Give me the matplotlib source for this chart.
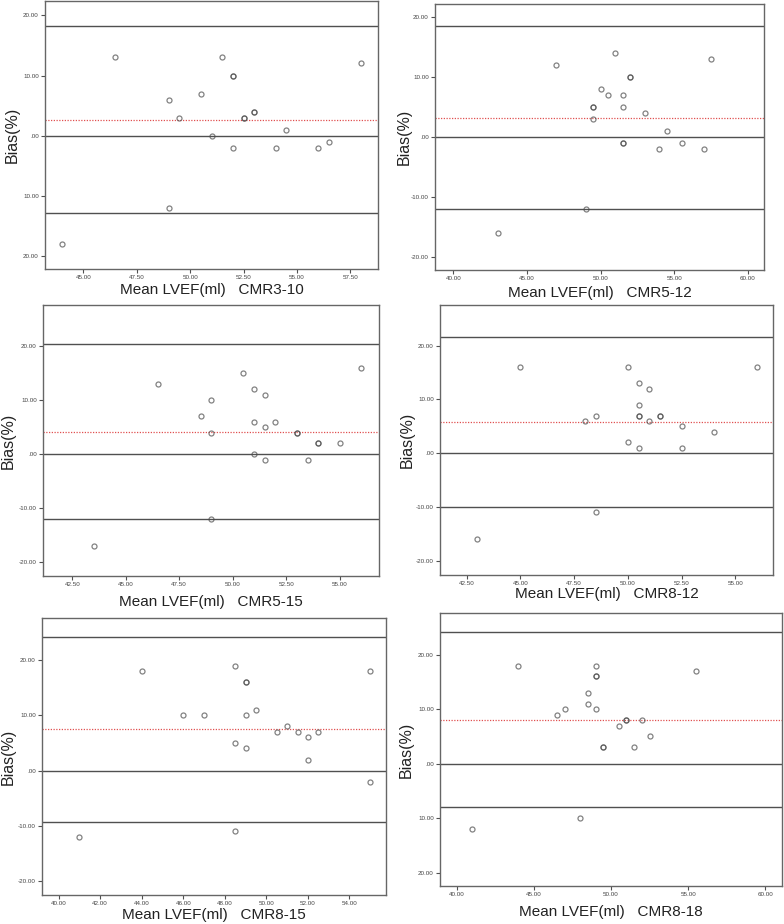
import matplotlib
matplotlib.use("Agg")
import matplotlib.pyplot as plt

plt.rcParams['font.family'] = ['Liberation Sans', 'DejaVu Sans']

# panel names (shown after the x label)
names = ["CMR3-10", "CMR5-12", "CMR5-15", "CMR8-12", "CMR8-15", "CMR8-18"]

# mean LVEF (x) and bias (y) for each comparison
x1 = [44, 46.5, 49, 49, 49.5, 50.5, 51, 51.5, 52, 52, 52, 52.5, 52.5, 53, 53, 54, 54.5, 56, 56.5, 58]
y1 = [-18, 13, 6, -12, 3, 7, 0, 13, 10, 10, -2, 3, 3, 4, 4, -2, 1, -2, -1, 12]

x2 = [43, 47, 49, 49.5, 49.5, 49.5, 50, 50.5, 51, 51.5, 51.5, 51.5, 51.5, 52, 52, 53, 54, 54.5, 55.5, 57, 57.5]
y2 = [-16, 12, -12, 5, 5, 3, 8, 7, 14, 7, 5, -1, -1, 10, 10, 4, -2, 1, -1, -2, 13]

x3 = [43.5, 46.5, 48.5, 49, 49, 49, 50.5, 51, 51, 51, 51.5, 51.5, 51.5, 52, 53, 53, 53.5, 54, 54, 55, 56]
y3 = [-17, 13, 7, 10, 4, -12, 15, 12, 6, 0, 11, 5, -1, 6, 4, 4, -1, 2, 2, 2, 16]

x4 = [43, 45, 48, 48.5, 48.5, 50, 50, 50.5, 50.5, 50.5, 50.5, 50.5, 51, 51, 51.5, 51.5, 52.5, 52.5, 54, 56]
y4 = [-16, 16, 6, 7, -11, 16, 2, 13, 9, 7, 7, 1, 12, 6, 7, 7, 5, 1, 4, 16]

x5 = [41, 44, 46, 47, 48.5, 48.5, 48.5, 49, 49, 49, 49, 49.5, 50.5, 51, 51.5, 52, 52, 52.5, 55, 55]
y5 = [-12, 18, 10, 10, 19, 5, -11, 16, 16, 10, 4, 11, 7, 8, 7, 6, 2, 7, 18, -2]

x6 = [41, 44, 46.5, 47, 48, 48.5, 48.5, 49, 49, 49, 49, 49.5, 49.5, 50.5, 51, 51, 51.5, 52, 52.5, 55.5]
y6 = [-12, 18, 9, 10, -10, 13, 11, 18, 16, 16, 10, 3, 3, 7, 8, 8, 3, 8, 5, 17]

xs = [x1, x2, x3, x4, x5, x6]
ys = [y1, y2, y3, y4, y5, y6]

# limits of agreement and mean bias
upper = [18.2, 18.5, 20.4, 21.7, 24.2, 24.1]
mean_bias = [2.6, 3.2, 4.2, 5.8, 7.5, 8.1]
lower = [-12.8, -12.1, -12.0, -10.1, -9.3, -7.9]

# axis ticks
xticks = [
    [45, 47.5, 50, 52.5, 55, 57.5],
    [40, 45, 50, 55, 60],
    [42.5, 45, 47.5, 50, 52.5, 55],
    [42.5, 45, 47.5, 50, 52.5, 55],
    [40, 42, 44, 46, 48, 50, 52, 54],
    [40, 45, 50, 55, 60],
]
yticks = [-20, -10, 0, 10, 20]
ylab_minus = ["-20.00", "-10.00", ".00", "10.00", "20.00"]
ylab_plain = ["20.00", "10.00", ".00", "10.00", "20.00"]
ytick_labels = [ylab_plain, ylab_minus, ylab_minus, ylab_minus, ylab_minus, ylab_plain]

xlims = [(43.2, 58.8), (38.75, 61.1), (41.13, 56.84), (41.26, 56.75), (39.2, 55.76), (38.92, 61.08)]
ylims = [(-22.2, 22.4), (-22.2, 22.2), (-22.5, 27.6), (-22.7, 27.6), (-22.5, 27.6), (-22.45, 27.65)]

W, H = 784, 924
# axes boxes in pixels: left, right, top, bottom
boxes = [(45, 378, 1, 269), (435, 764, 4, 270),
         (43, 379, 305, 576), (440, 773, 305, 575),
         (42, 386, 618, 895), (440, 782, 613, 886)]
# label centres in pixels: ylabel x, xlabel y
ylab_x = [12, 404, 8, 407, 8, 406]
xlab_y = [290, 293, 602, 594, 915, 912]

fig = plt.figure(figsize=(W / 100, H / 100), dpi=100)

line_c = "#505050"
for i in range(6):
    l, r, t, b = boxes[i]
    ax = fig.add_axes([l / W, 1 - b / H, (r - l) / W, (b - t) / H])
    ax.axhline(upper[i], color=line_c, lw=1.0)
    ax.axhline(0, color=line_c, lw=1.0)
    ax.axhline(lower[i], color=line_c, lw=1.0)
    ax.axhline(mean_bias[i], color="#e05050", lw=0.9, ls=(0, (1, 1.2)))
    ax.plot(xs[i], ys[i], "o", ms=3.6, mfc="none", mec=(0.3, 0.3, 0.3, 0.7), mew=0.9)
    ax.set_xlim(*xlims[i])
    ax.set_ylim(*ylims[i])
    ax.set_xticks(xticks[i])
    ax.set_xticklabels(["%.2f" % v for v in xticks[i]])
    ax.set_yticks(yticks)
    ax.set_yticklabels(ytick_labels[i])
    ax.tick_params(labelsize=4.5, labelcolor="#444444", length=3, width=0.8,
                   color=line_c, pad=1.5)
    for s in ax.spines.values():
        s.set_color("#666666")
        s.set_linewidth(1.0)
    ax.set_xlabel("Mean LVEF(ml)   " + names[i], fontsize=11, color="#222222", va="center")
    ax.set_ylabel("Bias(%)", fontsize=11.5, color="#222222", va="center")
    ax.xaxis.set_label_coords((l + r) / 2 / W, 1 - xlab_y[i] / H, transform=fig.transFigure)
    ax.yaxis.set_label_coords(ylab_x[i] / W, 1 - (t + b) / 2 / H, transform=fig.transFigure)

fig.savefig("out.png", dpi=100)
